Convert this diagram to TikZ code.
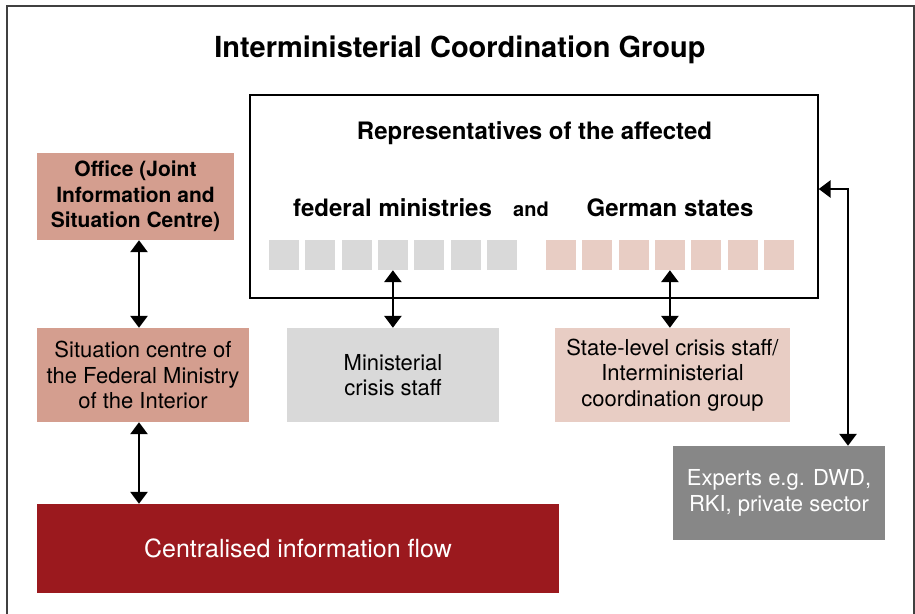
\documentclass[tikz,border=0pt]{standalone}
\usepackage{fontspec}
\setmainfont{TeX Gyre Heros}
\usetikzlibrary{arrows.meta}
\definecolor{salmon}{RGB}{212,158,143}
\definecolor{rose}{RGB}{232,205,196}
\definecolor{lightgrey}{RGB}{217,217,217}
\definecolor{midgrey}{RGB}{135,135,135}
\definecolor{darkred}{RGB}{155,25,30}
\begin{document}
\begin{tikzpicture}[x=1pt, y=-1pt,
	box/.style={inner sep=0pt, align=center, font=\fontsize{22}{25.5}\selectfont},
	head/.style={font=\bfseries\fontsize{24}{28}\selectfont, anchor=base},
	sq/.style={minimum size=30pt, inner sep=0pt},
	arr/.style={{Triangle[length=12pt,width=17pt]}-{Triangle[length=12pt,width=17pt]}, line width=2.8pt}]
	\useasboundingbox (0,0) rectangle (915,613);
	% outer frame
	\draw[line width=1.2pt, black!75] (7,640) -- (7,6) -- (914,6) -- (914,640);
	\node[font=\bfseries\fontsize{29}{33}\selectfont, anchor=base] (title) at (460,57) {Interministerial Coordination Group};
	% representatives
	\node[draw, line width=1.3pt, minimum width=568pt, minimum height=203pt] (reps) at (534,196.5) {};
	\node[head] (affected) at (534.5,139) {Representatives of the affected};
	\node[head] (federal) at (392.5,216) {federal ministries};
	\node[head, font=\bfseries\fontsize{20}{24}\selectfont] (and) at (531,216) {and};
	\node[head] (states) at (670,216) {German states};
	\foreach \i in {0,...,6} {
		\node[sq, fill=lightgrey] (g\i) at (284+36.3*\i, 255) {};
		\node[sq, fill=rose] (p\i) at (561+36.3*\i, 255) {};
	}
	% boxes
	\node[box, fill=salmon, minimum width=197pt, minimum height=87pt, font=\bfseries\fontsize{21}{25.5}\selectfont] (office) at (135.5,196.5) {Office (Joint\\Information and\\Situation Centre)};
	\node[box, fill=salmon, minimum width=212pt, minimum height=94pt] (situation) at (143,375) {Situation centre of\\the Federal Ministry\\of the Interior};
	\node[box, fill=lightgrey, minimum width=212pt, minimum height=94pt] (ministerial) at (393,375) {Ministerial\\crisis staff};
	\node[box, fill=rose, minimum width=235pt, minimum height=94pt] (state) at (672.5,375) {State-level crisis staff/\\Interministerial\\coordination group};
	\node[box, fill=midgrey, text=white, minimum width=212pt, minimum height=94pt] (experts) at (779,493) {Experts e.g. DWD,\\RKI, private sector};
	\node[box, fill=darkred, text=white, minimum width=522pt, minimum height=89pt, font=\fontsize{25}{29}\selectfont] (central) at (298,548.5) {Centralised information flow};
	% arrows
	\coordinate (lcol) at (139,0);
	\draw[arr] (lcol |- office.south) -- (lcol |- situation.north);
	\draw[arr] (lcol |- situation.south) -- (lcol |- central.north);
	\draw[arr] (g3.south) -- (g3.south |- ministerial.north);
	\draw[arr] (p3.south) -- (p3.south |- state.north);
	\coordinate (bend) at (848,189);
	\draw[arr] (reps.east |- bend) -- (bend) -- (bend |- experts.north);
\end{tikzpicture}
\end{document}
